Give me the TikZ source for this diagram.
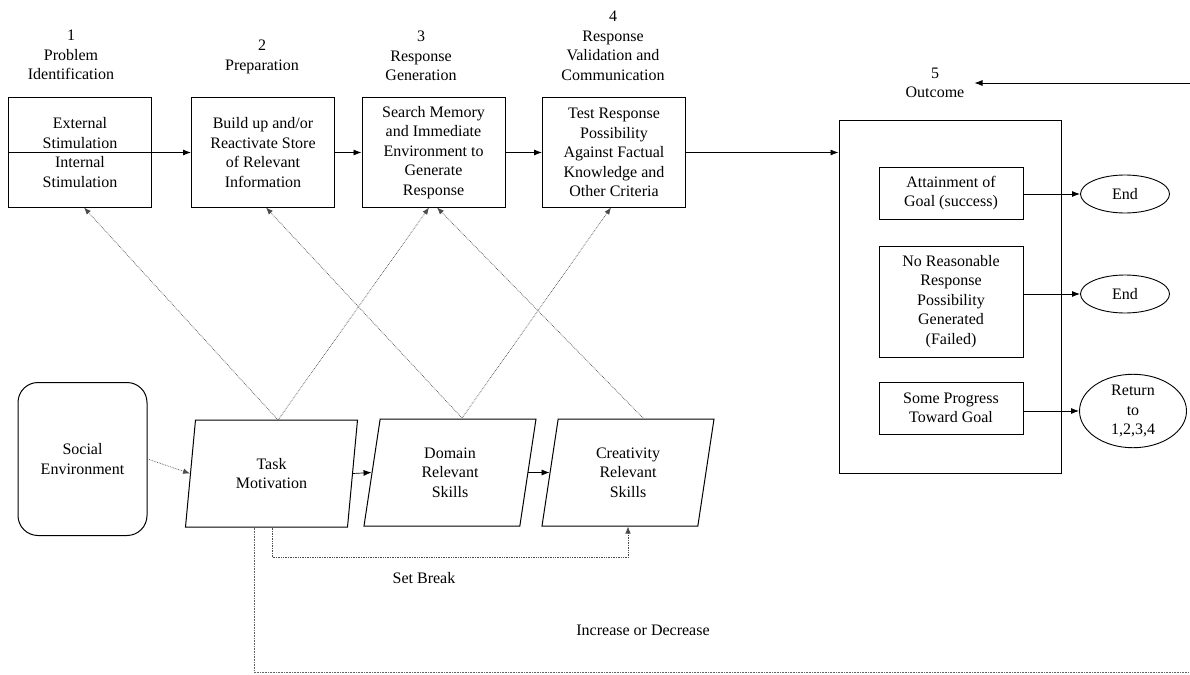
\documentclass[tikz,border=0pt]{standalone}
\usepackage{fontspec}
\setmainfont{Liberation Serif}
\usetikzlibrary{arrows.meta,shapes.geometric}
\begin{document}
\begin{tikzpicture}[x=1pt,y=-1pt,
  txt/.style={font=\fontsize{16}{19.5}\selectfont, align=center, inner sep=0pt},
  stagebox/.style={txt, draw, line width=1pt, minimum width=143, minimum height=109},
  outbox/.style={txt, draw, line width=1pt, minimum width=144},
  endell/.style={txt, draw, ellipse, line width=0.9pt, minimum width=89, minimum height=38},
  para/.style={txt, draw, line width=1pt, trapezium, trapezium left angle=72, trapezium right angle=108, trapezium stretches body, minimum width=172, minimum height=107},
  solidarr/.style={line width=0.9pt, -{Latex[length=8pt,width=6pt]}},
  dotarr/.style={densely dotted, line width=0.7pt, draw=black!70, -{Latex[length=7pt,width=5.5pt]}},
]
\useasboundingbox (0,0) rectangle (1190,674);

% stage labels
\node[txt] (l1) at (71,55) {1\\Problem\\Identification};
\node[txt] (l2) at (262,57) {2\\Preparation};
\node[txt] (l3) at (421,56) {3\\Response\\Generation};
\node[txt] (l4) at (613,46) {4\\Response\\Validation and\\Communication};
\node[txt] (l5) at (935,83) {5\\Outcome};

% stage boxes
\node[stagebox] (b1) at (80,152.5) {External\\Stimulation\\Internal\\Stimulation};
\node[stagebox] (b2) at (263,152.5) {Build up and/or\\Reactivate Store\\of Relevant\\Information};
\node[stagebox] (b3) at (433.5,152.5) {Search Memory\\and Immediate\\Environment to\\Generate\\Response};
\node[stagebox] (b4) at (614,152.5) {Test Response\\Possibility\\Against Factual\\Knowledge and\\Other Criteria};

% outcome
\node[draw, line width=1pt, minimum width=222, minimum height=352, inner sep=0pt] (ob) at (950,297) {};
\node[outbox, minimum height=52] (o1) at (951,193) {Attainment of\\Goal (success)};
\node[outbox, minimum height=111] (o2) at (951,301.5) {No Reasonable\\Response\\Possibility\\Generated\\(Failed)};
\node[outbox, minimum height=52] (o3) at (951,408) {Some Progress\\Toward Goal};
\node[endell] (e1) at (1125,194) {End};
\node[endell] (e2) at (1125,294) {End};
\node[endell, minimum width=107, minimum height=70] (e3) at (1133,411) {Return\\to\\1,2,3,4};

% bottom row
\node[txt, draw, line width=1pt, rounded corners=20pt, minimum width=129, minimum height=153] (so) at (82.5,459) {Social\\Environment};
\node[para] (tm) at (271.5,473.5) {Task\\Motivation};
\node[para] (dr) at (450,472.5) {Domain\\Relevant\\Skills};
\node[para] (cr) at (628,472.5) {Creativity\\Relevant\\Skills};

\node[txt] (sb) at (424,578) {Set Break};
\node[txt] (id) at (643,630) {Increase or Decrease};

% top flow
\draw[solidarr] (b1.west) -- (b2.west);
\draw[solidarr] (b2.east) -- (b3.west);
\draw[solidarr] (b3.east) -- (b4.west);
\draw[solidarr] (b4.east) -- (ob.west |- b4.east);
\coordinate (rin) at (1190,83);
\draw[line width=0.7pt, -{Latex[length=8pt,width=6pt]}] (rin) -- ([xshift=10pt]l5.east);

% outcome arrows
\draw[solidarr] (o1.east |- e1.west) -- (e1.west);
\draw[solidarr] (o2.east |- e2.west) -- (e2.west);
\draw[solidarr] (o3.east |- e3.west) -- (e3.west);

% bottom flow
\draw[dotarr] (so.east) -- (tm.west);
\draw[line width=0.7pt, -{Latex[length=8pt,width=6pt]}] (tm.east) -- (dr.west);
\draw[line width=0.7pt, -{Latex[length=8pt,width=6pt]}] (dr.east) -- (cr.west);

% influence lines
\coordinate (tmt) at (278,420);
\coordinate (drt) at (462,418);
\coordinate (crt) at (643,418);
\draw[dotarr] (tmt) -- ([xshift=4pt]b1.south);
\draw[dotarr] (tmt) -- ([xshift=-4.5pt]b3.south);
\draw[dotarr] (drt) -- ([xshift=3pt]b2.south);
\draw[dotarr] (drt) -- ([xshift=-3pt]b4.south);
\draw[dotarr] (crt) -- ([xshift=3.5pt]b3.south);

% set break
\draw[dotarr] ([xshift=0.5pt]tm.south) -- ++(0,30) -| (cr.south);

% increase or decrease
\coordinate (iend) at (1190,672);
\draw[densely dotted, line width=0.6pt, draw=black!60] ([xshift=-17.5pt]tm.south) |- (iend);
\end{tikzpicture}
\end{document}
